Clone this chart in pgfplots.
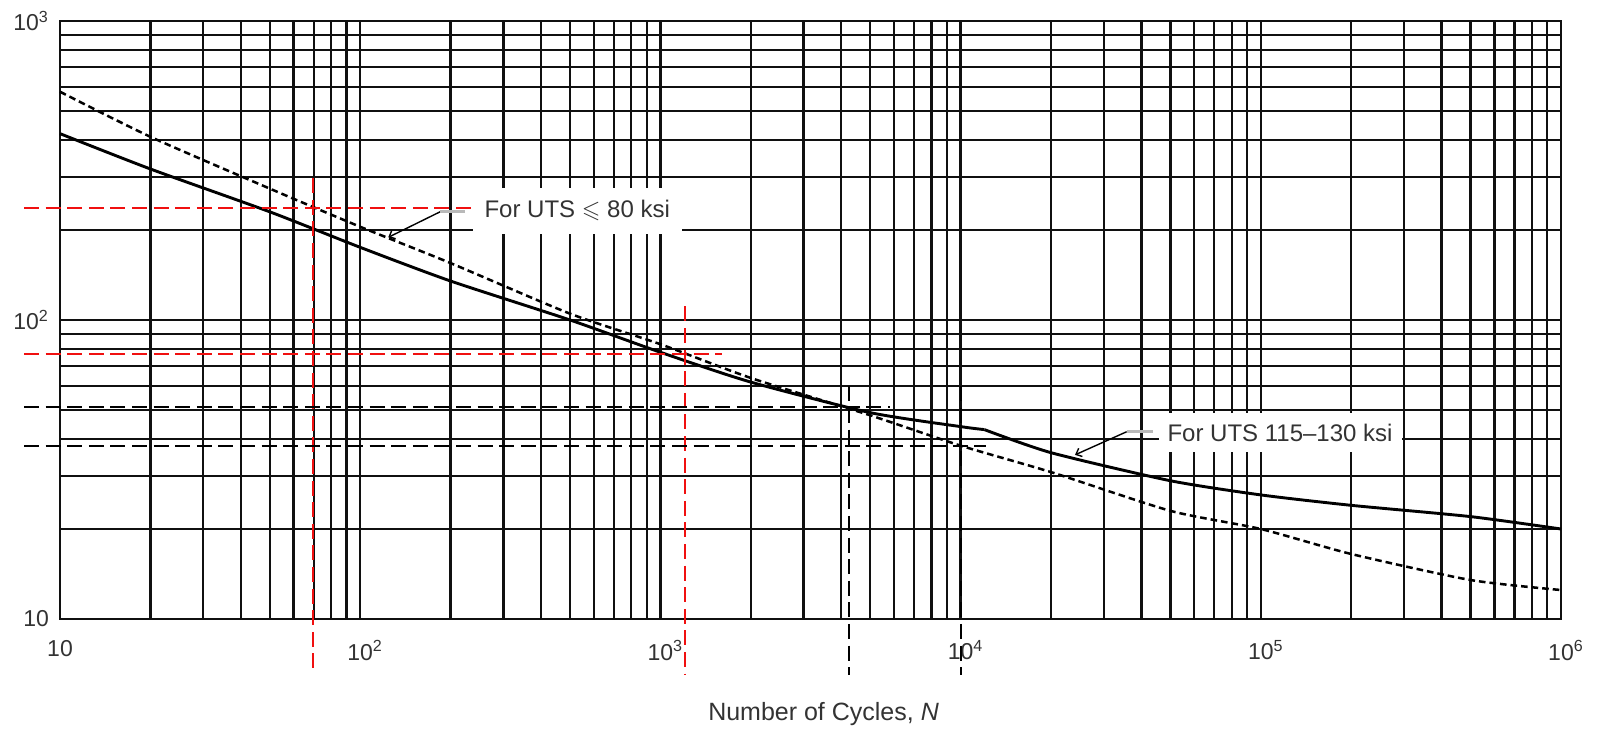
\documentclass[border=0pt]{standalone}
\usepackage{fontspec}
\setmainfont{Liberation Sans}
\usepackage{amssymb}
\usepackage{pgfplots}
\pgfplotsset{compat=1.18}
\usetikzlibrary{arrows.meta}
\definecolor{txt}{HTML}{333333}
\definecolor{refred}{HTML}{F01010}
\definecolor{gridc}{HTML}{101010}

\pgfplotstableread{
N S
10 420
20 320
50 230
100 175
200 135
500 100
1000 78
2000 62
5000 49
10000 44
12000 43
}\highutsA

\pgfplotstableread{
N S
12000 43
20000 36
50000 29
100000 26
200000 24
500000 22
1000000 20
}\highutsB

\pgfplotstableread{
N S
10 580
20 410
50 275
100 205
200 155
500 105
1000 83
2000 64
5000 48
10000 38
20000 31
50000 23
100000 20
200000 16.5
500000 13.5
1000000 12.5
}\lowuts

\begin{document}
\begin{tikzpicture}
\path[use as bounding box] (-30pt,-55.5pt) rectangle (771pt,309.5pt);
\begin{axis}[
  at={(0pt,0pt)}, anchor=south west,
  scale only axis, width=750.5pt, height=299pt,
  xmode=log, ymode=log,
  xmin=10, xmax=1e6, ymin=10, ymax=1000,
  xtick={10,100,1000,10000,100000,1000000},
  xticklabels={10, 10\rlap{\textsuperscript{2}}, 10\rlap{\textsuperscript{3}}, 10\rlap{\textsuperscript{4}}, 10\rlap{\textsuperscript{5}}, 10\rlap{\textsuperscript{6}}},
  ytick={10,100,1000},
  yticklabels={10, 10\textsuperscript{2}, 10\textsuperscript{3}},
  grid=both,
  major grid style={draw=gridc, line width=1.15pt},
  minor grid style={draw=gridc, line width=1.15pt},
  axis line style={draw=gridc, line width=1.15pt},
  tick style={draw=none},
  major tick length=0pt, minor tick length=0pt,
  xticklabel style={font=\fontsize{11.5}{13}\selectfont, text=txt},
  yticklabel style={font=\fontsize{11.5}{13}\selectfont, text=txt},
  xticklabel shift=7pt,
  yticklabel shift=2pt,
  clip=false,
]
\addplot[black, line width=1.45pt, smooth, tension=0.4] table[x=N, y=S] {\highutsA};
\addplot[black, line width=1.45pt, smooth, tension=0.4] table[x=N, y=S] {\highutsB};
\addplot[black, line width=1.25pt, smooth, tension=0.4, dash pattern=on 3.3pt off 2pt] table[x=N, y=S] {\lowuts};

% label boxes
\node[fill=white, anchor=west, inner xsep=6pt, minimum height=23pt, text=txt,
      font=\fontsize{12}{14}\selectfont] at (axis cs:236,232) {For UTS $\leqslant$ 80 ksi};
\node[fill=white, anchor=west, inner xsep=4.5pt, minimum height=19.5pt, text=txt,
      font=\fontsize{12}{14}\selectfont] at (axis cs:45500,41.9) {For UTS 115--130 ksi};

% leaders
\draw[black, line width=0.7pt, {Straight Barb[length=2.5pt,width=4.5pt]}-] (axis cs:124,189) -- (axis cs:184.5,230);
\draw[gray!55, line width=1.6pt] (axis cs:184.5,230) -- (axis cs:223.5,230);
\draw[black, line width=0.7pt, {Straight Barb[length=2.5pt,width=4.5pt]}-] (axis cs:24050,35.4) -- (axis cs:35750,42.3);
\draw[gray!55, line width=1.6pt] (axis cs:35750,42.3) -- (axis cs:43750,42.3);

% reference lines (red)
\addplot[refred, line width=1pt, dash pattern=on 7.5pt off 3.3pt] coordinates {(7.59,237) (238,237)};
\addplot[refred, line width=1pt, dash pattern=on 7.5pt off 3.3pt] coordinates {(69.5,298) (69.5,6.5)};
\addplot[refred, line width=1pt, dash pattern=on 7.5pt off 3.3pt] coordinates {(7.59,76.8) (1600,76.8)};
\addplot[refred, line width=1pt, dash pattern=on 7.5pt off 3.3pt] coordinates {(1208,111) (1208,6.5)};
% reference lines (black)
\addplot[black, line width=1pt, dash pattern=on 7.5pt off 3.3pt] coordinates {(7.59,51.3) (5820,51.3)};
\addplot[black, line width=1pt, dash pattern=on 7.5pt off 3.3pt] coordinates {(7.59,37.8) (12160,37.8)};
\addplot[black, line width=1pt, dash pattern=on 7.5pt off 3.3pt] coordinates {(4250,60) (4250,6.5)};
\addplot[black, line width=1pt, dash pattern=on 7.5pt off 3.3pt] coordinates {(10050,60) (10050,6.5)};

\node[text=txt, font=\fontsize{12.5}{15}\selectfont, anchor=center] at (axis description cs:0.5087,0) [yshift=-47.5pt] {Number of Cycles, \textit{N}};
\end{axis}
\end{tikzpicture}
\end{document}
